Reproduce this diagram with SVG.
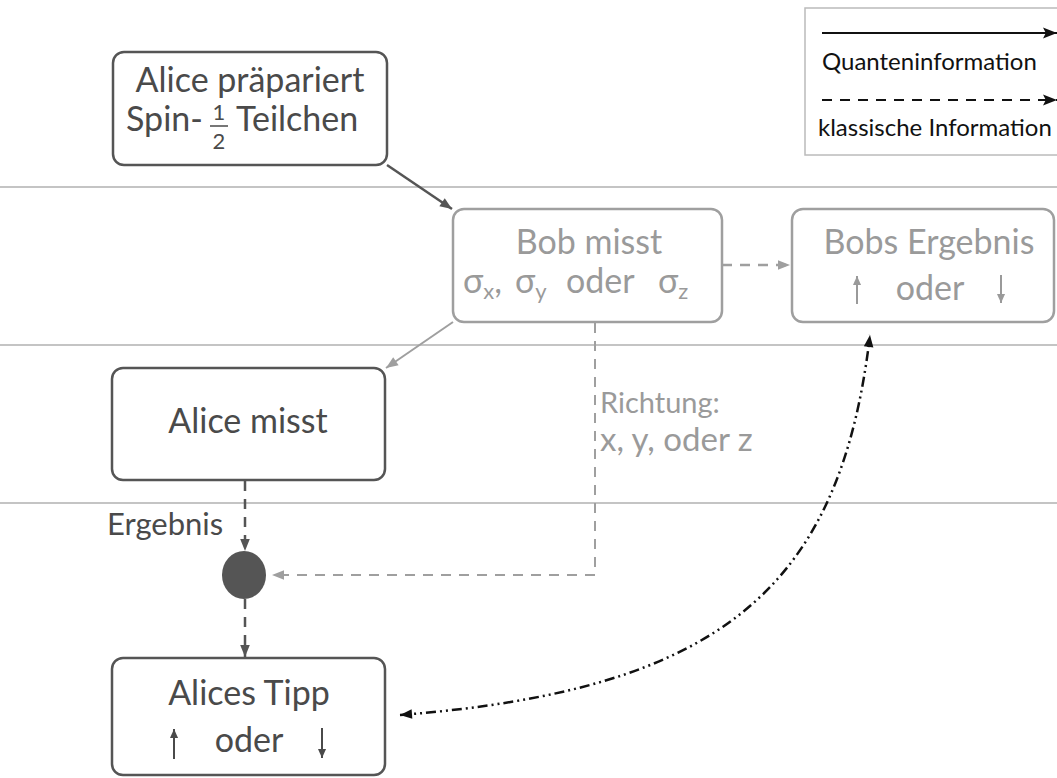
<svg xmlns="http://www.w3.org/2000/svg" width="1057" height="778" viewBox="0 0 1057 778">
<style>
text{font-family:Lato,"Open Sans","Liberation Sans",sans-serif}
.big{font-size:34px}
.dk{fill:#4a4a4a}
.lt{fill:#9a9a9a}
.boxd{fill:#fff;stroke:#555;stroke-width:2.5}
.boxl{fill:#fff;stroke:#9f9f9f;stroke-width:2.5}
.sep{stroke:#b0b0b0;stroke-width:1.5}
.leg{font-size:24px;fill:#111}
</style>
<defs>
<marker id="abl" viewBox="0 0 10 10" refX="10" refY="5" markerWidth="22" markerHeight="14" markerUnits="userSpaceOnUse" orient="auto"><path d="M0,1L10,5L0,9L2,5z" fill="#111"/></marker>
<marker id="ad" viewBox="0 0 10 10" refX="10" refY="5" markerWidth="14" markerHeight="12" markerUnits="userSpaceOnUse" orient="auto"><path d="M0,1L10,5L0,9z" fill="#555"/></marker>
<marker id="al" viewBox="0 0 10 10" refX="10" refY="5" markerWidth="14" markerHeight="12" markerUnits="userSpaceOnUse" orient="auto"><path d="M0,1L10,5L0,9z" fill="#9f9f9f"/></marker>
<marker id="sl" viewBox="0 0 10 10" refX="10" refY="5" markerWidth="12" markerHeight="9" markerUnits="userSpaceOnUse" orient="auto"><path d="M0,0.5L10,5L0,9.5z" fill="#9a9a9a"/></marker>
<marker id="sd" viewBox="0 0 10 10" refX="10" refY="5" markerWidth="12" markerHeight="9" markerUnits="userSpaceOnUse" orient="auto"><path d="M0,0.5L10,5L0,9.5z" fill="#4a4a4a"/></marker>
<marker id="ak" viewBox="0 0 10 10" refX="10" refY="5" markerWidth="16" markerHeight="12" markerUnits="userSpaceOnUse" orient="auto-start-reverse"><path d="M0,1L10,5L0,9z" fill="#111"/></marker>
</defs>

<g id="separators">
<line class="sep" x1="0" y1="187" x2="1057" y2="187"/>
<line class="sep" x1="0" y1="345" x2="1057" y2="345"/>
<line class="sep" x1="0" y1="503" x2="1057" y2="503"/>
</g>

<g id="legend">
<rect x="805" y="8" width="280" height="147" fill="#fff" stroke="#bbb" stroke-width="1.5"/>
<line x1="822" y1="33" x2="1057" y2="33" stroke="#111" stroke-width="2" marker-end="url(#abl)"/>
<text class="leg" x="822" y="70">Quanteninformation</text>
<line x1="822" y1="100" x2="1057" y2="100" stroke="#111" stroke-width="2" stroke-dasharray="10 8" marker-end="url(#abl)"/>
<text class="leg" x="818" y="136">klassische Information</text>
</g>

<g id="connectors" fill="none">
<line x1="387" y1="165" x2="452" y2="209" stroke="#555" stroke-width="2.5" marker-end="url(#ad)"/>
<line x1="722" y1="265" x2="790" y2="265" stroke="#9f9f9f" stroke-width="2.5" stroke-dasharray="10 8" marker-end="url(#al)"/>
<line x1="453" y1="322" x2="386" y2="368" stroke="#9f9f9f" stroke-width="2" marker-end="url(#al)"/>
<polyline points="595,323 595,575 272,575" stroke="#9f9f9f" stroke-width="2" stroke-dasharray="10 8" marker-end="url(#al)"/>
<line x1="245" y1="481" x2="245" y2="551" stroke="#555" stroke-width="2.5" stroke-dasharray="10 8" marker-end="url(#ad)"/>
<line x1="245" y1="599" x2="245" y2="657" stroke="#555" stroke-width="2.5" stroke-dasharray="10 8" marker-end="url(#ad)"/>
<path d="M400 715 C 720 690, 840 590, 870 335" stroke="#111" stroke-width="2.5" stroke-dasharray="10 4 2 4 2 4" marker-start="url(#ak)" marker-end="url(#ak)"/>
</g>

<g id="alice-prepares">
<rect class="boxd" x="113" y="52" width="274" height="113" rx="11"/>
<text class="big dk" x="250" y="92" text-anchor="middle">Alice präpariert</text>
<text class="big dk" x="126" y="131">Spin-</text>
<text class="dk" x="219" y="120" font-size="22" text-anchor="middle">1</text>
<line x1="210" y1="126" x2="228" y2="126" stroke="#4a4a4a" stroke-width="1.5"/>
<text class="dk" x="219" y="149" font-size="22" text-anchor="middle">2</text>
<text class="big dk" x="236" y="131">Teilchen</text>
</g>

<g id="bob-measures">
<rect class="boxl" x="453" y="209" width="269" height="113" rx="11"/>
<text class="big lt" x="589" y="254" text-anchor="middle">Bob misst</text>
<text class="big lt" x="463" y="293">σ<tspan font-size="22" dy="6">x</tspan><tspan dy="-6">,</tspan></text>
<text class="big lt" x="515" y="293">σ<tspan font-size="22" dy="6">y</tspan></text>
<text class="big lt" x="566" y="293">oder</text>
<text class="big lt" x="658" y="293">σ<tspan font-size="22" dy="6">z</tspan></text>
</g>

<g id="bob-result">
<rect class="boxl" x="792" y="209" width="262" height="113" rx="11"/>
<text class="big lt" x="929" y="254" text-anchor="middle">Bobs Ergebnis</text>
<text class="big lt" x="930" y="300" text-anchor="middle">oder</text>
<line x1="857" y1="304" x2="857" y2="276" stroke="#9a9a9a" stroke-width="2" marker-end="url(#sl)"/>
<line x1="1001" y1="275" x2="1001" y2="303" stroke="#9a9a9a" stroke-width="2" marker-end="url(#sl)"/>
</g>

<g id="alice-measures">
<rect class="boxd" x="112" y="368" width="273" height="112" rx="11"/>
<text class="big dk" x="248" y="433" text-anchor="middle">Alice misst</text>
</g>

<g id="labels">
<text class="lt" x="600" y="413" font-size="29">Richtung:</text>
<text class="lt" x="600" y="451" font-size="33">x, y, oder z</text>
<text class="dk" x="107" y="535" font-size="31">Ergebnis</text>
</g>

<g id="combine">
<ellipse cx="244" cy="575" rx="22" ry="24" fill="#555"/>
</g>

<g id="alice-guess">
<rect class="boxd" x="112" y="658" width="273" height="117" rx="11"/>
<text class="big dk" x="249" y="705" text-anchor="middle">Alices Tipp</text>
<text class="big dk" x="249" y="752" text-anchor="middle">oder</text>
<line x1="174" y1="759" x2="174" y2="729" stroke="#4a4a4a" stroke-width="2" marker-end="url(#sd)"/>
<line x1="322" y1="728" x2="322" y2="758" stroke="#4a4a4a" stroke-width="2" marker-end="url(#sd)"/>
</g>
</svg>
